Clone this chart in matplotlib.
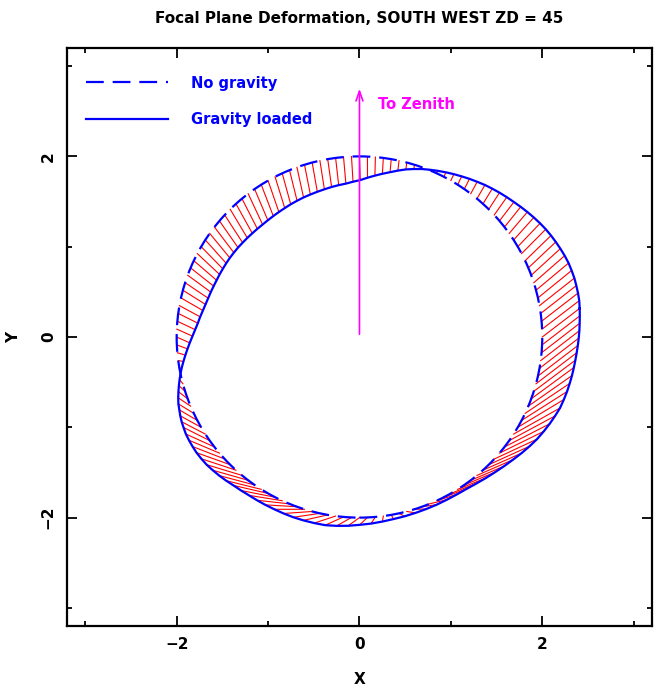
import numpy as np
import matplotlib
matplotlib.use("Agg")
import matplotlib.pyplot as plt
from matplotlib.patches import Circle
from matplotlib.lines import Line2D

# sample points on the undeformed focal plane edge (degrees)
angles_deg = np.arange(0, 360, 2.5)
no_gravity_radius = 2.0

# gravity loaded edge in polar form:
# tangential shift of each sample point (deg) and its new radius
loaded_shift_deg = [
    7.5, 7.0, 6.5, 6.0, 5.5, 5.1, 4.7, 4.35, 4.0, 3.6, 3.2, 2.85,
    2.5, 2.25, 2.0, 1.75, 1.5, 1.35, 1.2, 1.0, 0.8, 0.65, 0.5, 0.35,
    0.2, 0.1, 0.0, -0.1, -0.2, -0.25, -0.3, -0.35, -0.4, -0.4, -0.4, -0.35,
    -0.3, -0.15, 0.0, 0.2, 0.4, 0.7, 1.0, 1.3, 1.6, 1.85, 2.1, 2.3,
    2.5, 2.65, 2.8, 2.9, 3.0, 3.1, 3.2, 3.25, 3.3, 3.3, 3.3, 3.25,
    3.2, 3.15, 3.1, 3.05, 3.0, 2.95, 2.9, 2.8, 2.7, 2.55, 2.4, 2.2,
    2.0, 1.5, 1.0, 0.5, 0.0, -0.75, -1.5, -2.25, -3.0, -3.75, -4.5, -5.25,
    -6.0, -6.75, -7.5, -8.0, -8.5, -8.9, -9.3, -9.55, -9.8, -9.9, -10.0, -10.0,
    -10.0, -9.8, -9.6, -9.3, -9.0, -8.5, -8.0, -7.4, -6.8, -6.0, -5.2, -4.3,
    -3.4, -2.45, -1.5, -0.5, 0.5, 1.5, 2.5, 3.5, 4.5, 5.5, 6.5, 7.4,
    8.3, 9.05, 9.8, 10.4, 11.0, 11.5, 12.0, 12.3, 12.6, 12.7, 12.8, 12.8,
    12.8, 12.6, 12.4, 12.1, 11.8, 11.3, 10.8, 10.25, 9.7, 9.15, 8.6, 8.05]
loaded_radius = [
    2.430, 2.438, 2.440, 2.440, 2.440, 2.435, 2.430, 2.419, 2.406, 2.392, 2.378, 2.362,
    2.343, 2.322, 2.300, 2.278, 2.256, 2.235, 2.214, 2.193, 2.172, 2.148, 2.125, 2.101,
    2.078, 2.054, 2.030, 2.006, 1.982, 1.953, 1.924, 1.890, 1.856, 1.825, 1.795, 1.766,
    1.738, 1.721, 1.705, 1.697, 1.689, 1.680, 1.673, 1.667, 1.662, 1.656, 1.651, 1.645,
    1.641, 1.638, 1.636, 1.635, 1.638, 1.641, 1.646, 1.651, 1.657, 1.662, 1.667, 1.671,
    1.675, 1.680, 1.685, 1.692, 1.701, 1.710, 1.723, 1.737, 1.757, 1.775, 1.800, 1.827,
    1.858, 1.886, 1.915, 1.945, 1.975, 2.000, 2.024, 2.048, 2.071, 2.094, 2.115, 2.130,
    2.146, 2.160, 2.170, 2.182, 2.188, 2.192, 2.195, 2.193, 2.190, 2.180, 2.170, 2.158,
    2.145, 2.137, 2.130, 2.127, 2.125, 2.123, 2.123, 2.123, 2.121, 2.119, 2.117, 2.106,
    2.094, 2.080, 2.070, 2.059, 2.050, 2.046, 2.042, 2.040, 2.040, 2.040, 2.043, 2.050,
    2.066, 2.086, 2.108, 2.133, 2.160, 2.190, 2.220, 2.248, 2.271, 2.292, 2.312, 2.331,
    2.341, 2.350, 2.357, 2.364, 2.370, 2.376, 2.383, 2.391, 2.399, 2.407, 2.414, 2.422]

zenith_length = 2.78

theta = np.radians(angles_deg)
phi = np.radians(angles_deg + np.array(loaded_shift_deg))
r_load = np.array(loaded_radius)

x_free = no_gravity_radius * np.cos(theta)
y_free = no_gravity_radius * np.sin(theta)
x_load = r_load * np.cos(phi)
y_load = r_load * np.sin(phi)

fig = plt.figure(figsize=(6.58, 6.87), dpi=100)
ax = fig.add_axes([0.1018, 0.0888, 0.889, 0.8413])

# displacement vectors
ax.plot(np.vstack([x_free, x_load]), np.vstack([y_free, y_load]),
        color="red", lw=0.8, zorder=1)

ax.add_patch(Circle((0, 0), no_gravity_radius, fill=False, color="blue",
                    lw=1.6, linestyle=(0, (8, 4)), zorder=2))
ax.plot(np.append(x_load, x_load[0]), np.append(y_load, y_load[0]),
        color="blue", lw=1.6, zorder=2)

ax.annotate("", xy=(0, zenith_length), xytext=(0, 0),
            arrowprops=dict(arrowstyle="->,head_length=0.7,head_width=0.25",
                            color="magenta", lw=1.2))
ax.text(0.2, 2.58, "To Zenith", color="magenta", fontsize=10.5,
        fontweight="bold", va="center")

handles = [Line2D([], [], color="blue", lw=1.6, linestyle=(0, (8, 4))),
           Line2D([], [], color="blue", lw=1.6)]
leg = ax.legend(handles, ["No gravity", "Gravity loaded"], loc="upper left",
                bbox_to_anchor=(0.01, 0.975), frameon=False, handlelength=5.6,
                handletextpad=1.6, labelspacing=1.45,
                prop=dict(size=10.5, weight="bold"))
for t in leg.get_texts():
    t.set_color("blue")

ax.set_xlim(-3.2, 3.2)
ax.set_ylim(-3.2, 3.2)
ax.set_xticks([-2, 0, 2])
ax.set_yticks([-2, 0, 2])
ax.set_xticks([-3, -1, 1, 3], minor=True)
ax.set_yticks([-3, -1, 1, 3], minor=True)
ax.tick_params(which="both", direction="in", top=True, right=True, width=1.3,
               labelsize=11)
ax.tick_params(which="major", length=7, pad=8)
ax.tick_params(which="minor", length=3.5)
ax.tick_params(axis="y", labelrotation=90)
for lab in ax.get_xticklabels() + ax.get_yticklabels():
    lab.set_fontweight("bold")
for lab in ax.get_yticklabels():
    lab.set_va("center")
for s in ax.spines.values():
    s.set_linewidth(1.6)

ax.set_xlabel("X", fontsize=11, fontweight="bold", labelpad=14)
ax.set_ylabel("Y", fontsize=11, fontweight="bold", labelpad=14)
ax.set_title("Focal Plane Deformation, SOUTH WEST ZD = 45", fontsize=11,
             fontweight="bold", pad=18)

fig.savefig("out.png", dpi=100)
